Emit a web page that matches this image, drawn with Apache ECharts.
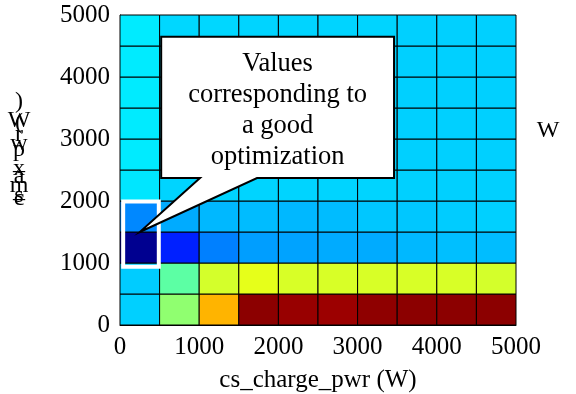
<!DOCTYPE html>
<html><head><meta charset="utf-8">
<script src="https://cdn.jsdelivr.net/npm/echarts@6/dist/echarts.min.js"></script>
<style>html,body{margin:0;padding:0;background:#fff}#c{width:576px;height:394px}</style>
</head><body><div id="c"></div>
<script>
// cell lower-left edges (W)
const xEdges = [0,500,1000,1500,2000,2500,3000,3500,4000,4500];
const yEdges = [0,500,1000,1500,2000,2500,3000,3500,4000,4500];
const cellSize = 500;
const xTicks = [0,1000,2000,3000,4000,5000];
const yTicks = [0,1000,2000,3000,4000,5000];
// normalized cost per cell, rows from y=0 upward
const row0 = [0.329,0.516,0.699,0.988,0.976,0.972,0.985,0.988,0.988,0.988];
const row1 = [0.325,0.465,0.583,0.600,0.587,0.587,0.587,0.587,0.587,0.583];
const row2 = [0.016,0.156,0.250,0.280,0.284,0.292,0.292,0.305,0.312,0.310];
const row3 = [0.258,0.292,0.305,0.309,0.305,0.309,0.320,0.320,0.325,0.329];
const row4 = [0.350,0.333,0.333,0.333,0.333,0.333,0.333,0.329,0.329,0.329];
const row5 = [0.355,0.333,0.333,0.333,0.333,0.333,0.333,0.329,0.329,0.329];
const row6 = [0.355,0.333,0.333,0.333,0.333,0.333,0.333,0.329,0.329,0.329];
const row7 = [0.355,0.333,0.333,0.333,0.333,0.333,0.333,0.329,0.329,0.329];
const row8 = [0.355,0.333,0.333,0.333,0.333,0.333,0.333,0.329,0.329,0.329];
const row9 = [0.355,0.336,0.336,0.333,0.333,0.333,0.333,0.329,0.329,0.329];
const rows = [row0,row1,row2,row3,row4,row5,row6,row7,row8,row9];
const xName = 'cs_charge_pwr (W)';
const yName = 'cs_max_pwr (W)';
const calloutText = ['Values','corresponding to','a good','optimization'];
const rightLabel = 'W';

const data = [];
rows.forEach((r, j) => r.forEach((v, i) => data.push([xEdges[i], yEdges[j], v])));

const font = 'Liberation Serif, Times New Roman, serif';
const chart = echarts.init(document.getElementById('c'), null, {renderer:'canvas'});
const fmt = v => String(v);
const option = {
  animation: false,
  backgroundColor: '#fff',
  grid: {left:120, right:60, top:15, bottom:69, containLabel:false, outerBoundsMode:'none'},
  visualMap: {show:false, dimension:2, min:0, max:1, seriesIndex:0,
    inRange:{color:['#000080','#0000FF','#0080FF','#00FFFF','#80FF80','#FFFF00','#FF8000','#FF0000','#800000']}},
  xAxis: {type:'value', min:0, max:5000, interval:1000,
    name:xName, nameLocation:'middle', nameGap:43,
    nameTextStyle:{fontFamily:font, fontSize:25, color:'#000'},
    axisLine:{show:true, lineStyle:{color:'#000', width:1}}, axisTick:{show:false},
    splitLine:{show:false},
    axisLabel:{fontFamily:font, fontSize:25, color:'#000', margin:10, formatter:fmt}},
  yAxis: {type:'value', min:0, max:5000, interval:1000,
    axisLine:{show:true, lineStyle:{color:'#000', width:1}}, axisTick:{show:false},
    splitLine:{show:false},
    axisLabel:{fontFamily:font, fontSize:25, color:'#000', margin:10, formatter:fmt}},
  series: [{
    type:'custom',
    data: data,
    encode:{x:0, y:1},
    renderItem: function(params, api){
      const x0 = api.value(0), y0 = api.value(1);
      const p1 = api.coord([x0, y0 + cellSize]);
      const p2 = api.coord([x0 + cellSize, y0]);
      return {type:'rect', shape:{x:p1[0], y:p1[1], width:p2[0]-p1[0], height:p2[1]-p1[1]},
        style:{fill:api.visual('color'), stroke:'#000', lineWidth:1}};
    }
  }]
};
chart.setOption(option);

const P = (x, y) => chart.convertToPixel({gridIndex:0}, [x, y]);
// annotation geometry in data units
const hl1 = P(40, 1990), hl2 = P(490, 940);
const boxPts = [[520,4650],[3460,4650],[3460,2370],[1730,2370],[250,1500],[1010,2370],[520,2370]].map(p => P(p[0], p[1]));
const txtPos = P(1990, 3452);
// y-axis name drawn as stacked characters (as in reference)
const yChars = yName.split('').reverse();
const yCenters = [102,121,123,128,135,144,150,163,169,177,186,191,196,199];
const graphics = [
  {type:'rect', z:100, shape:{x:hl1[0], y:hl1[1], width:hl2[0]-hl1[0], height:hl2[1]-hl1[1]},
    style:{fill:'none', stroke:'#fff', lineWidth:4}},
  {type:'polygon', z:101, shape:{points:boxPts}, style:{fill:'#fff', stroke:'#000', lineWidth:2}},
  {type:'text', z:102, x:txtPos[0], y:txtPos[1], style:{text:calloutText.join('\n'), font:'26.5px '+font,
    fill:'#000', align:'center', verticalAlign:'middle', lineHeight:31}},
  {type:'text', z:102, x:548, y:131, style:{text:rightLabel, font:'24px '+font, fill:'#000', align:'center', verticalAlign:'middle'}}
];
yChars.forEach((ch, k) => {
  graphics.push({type:'text', z:102, x:19, y:yCenters[k], style:{text:ch, font:'24px '+font, fill:'#000', align:'center', verticalAlign:'middle'}});
});
chart.setOption({graphic: graphics});
</script>
</body></html>
